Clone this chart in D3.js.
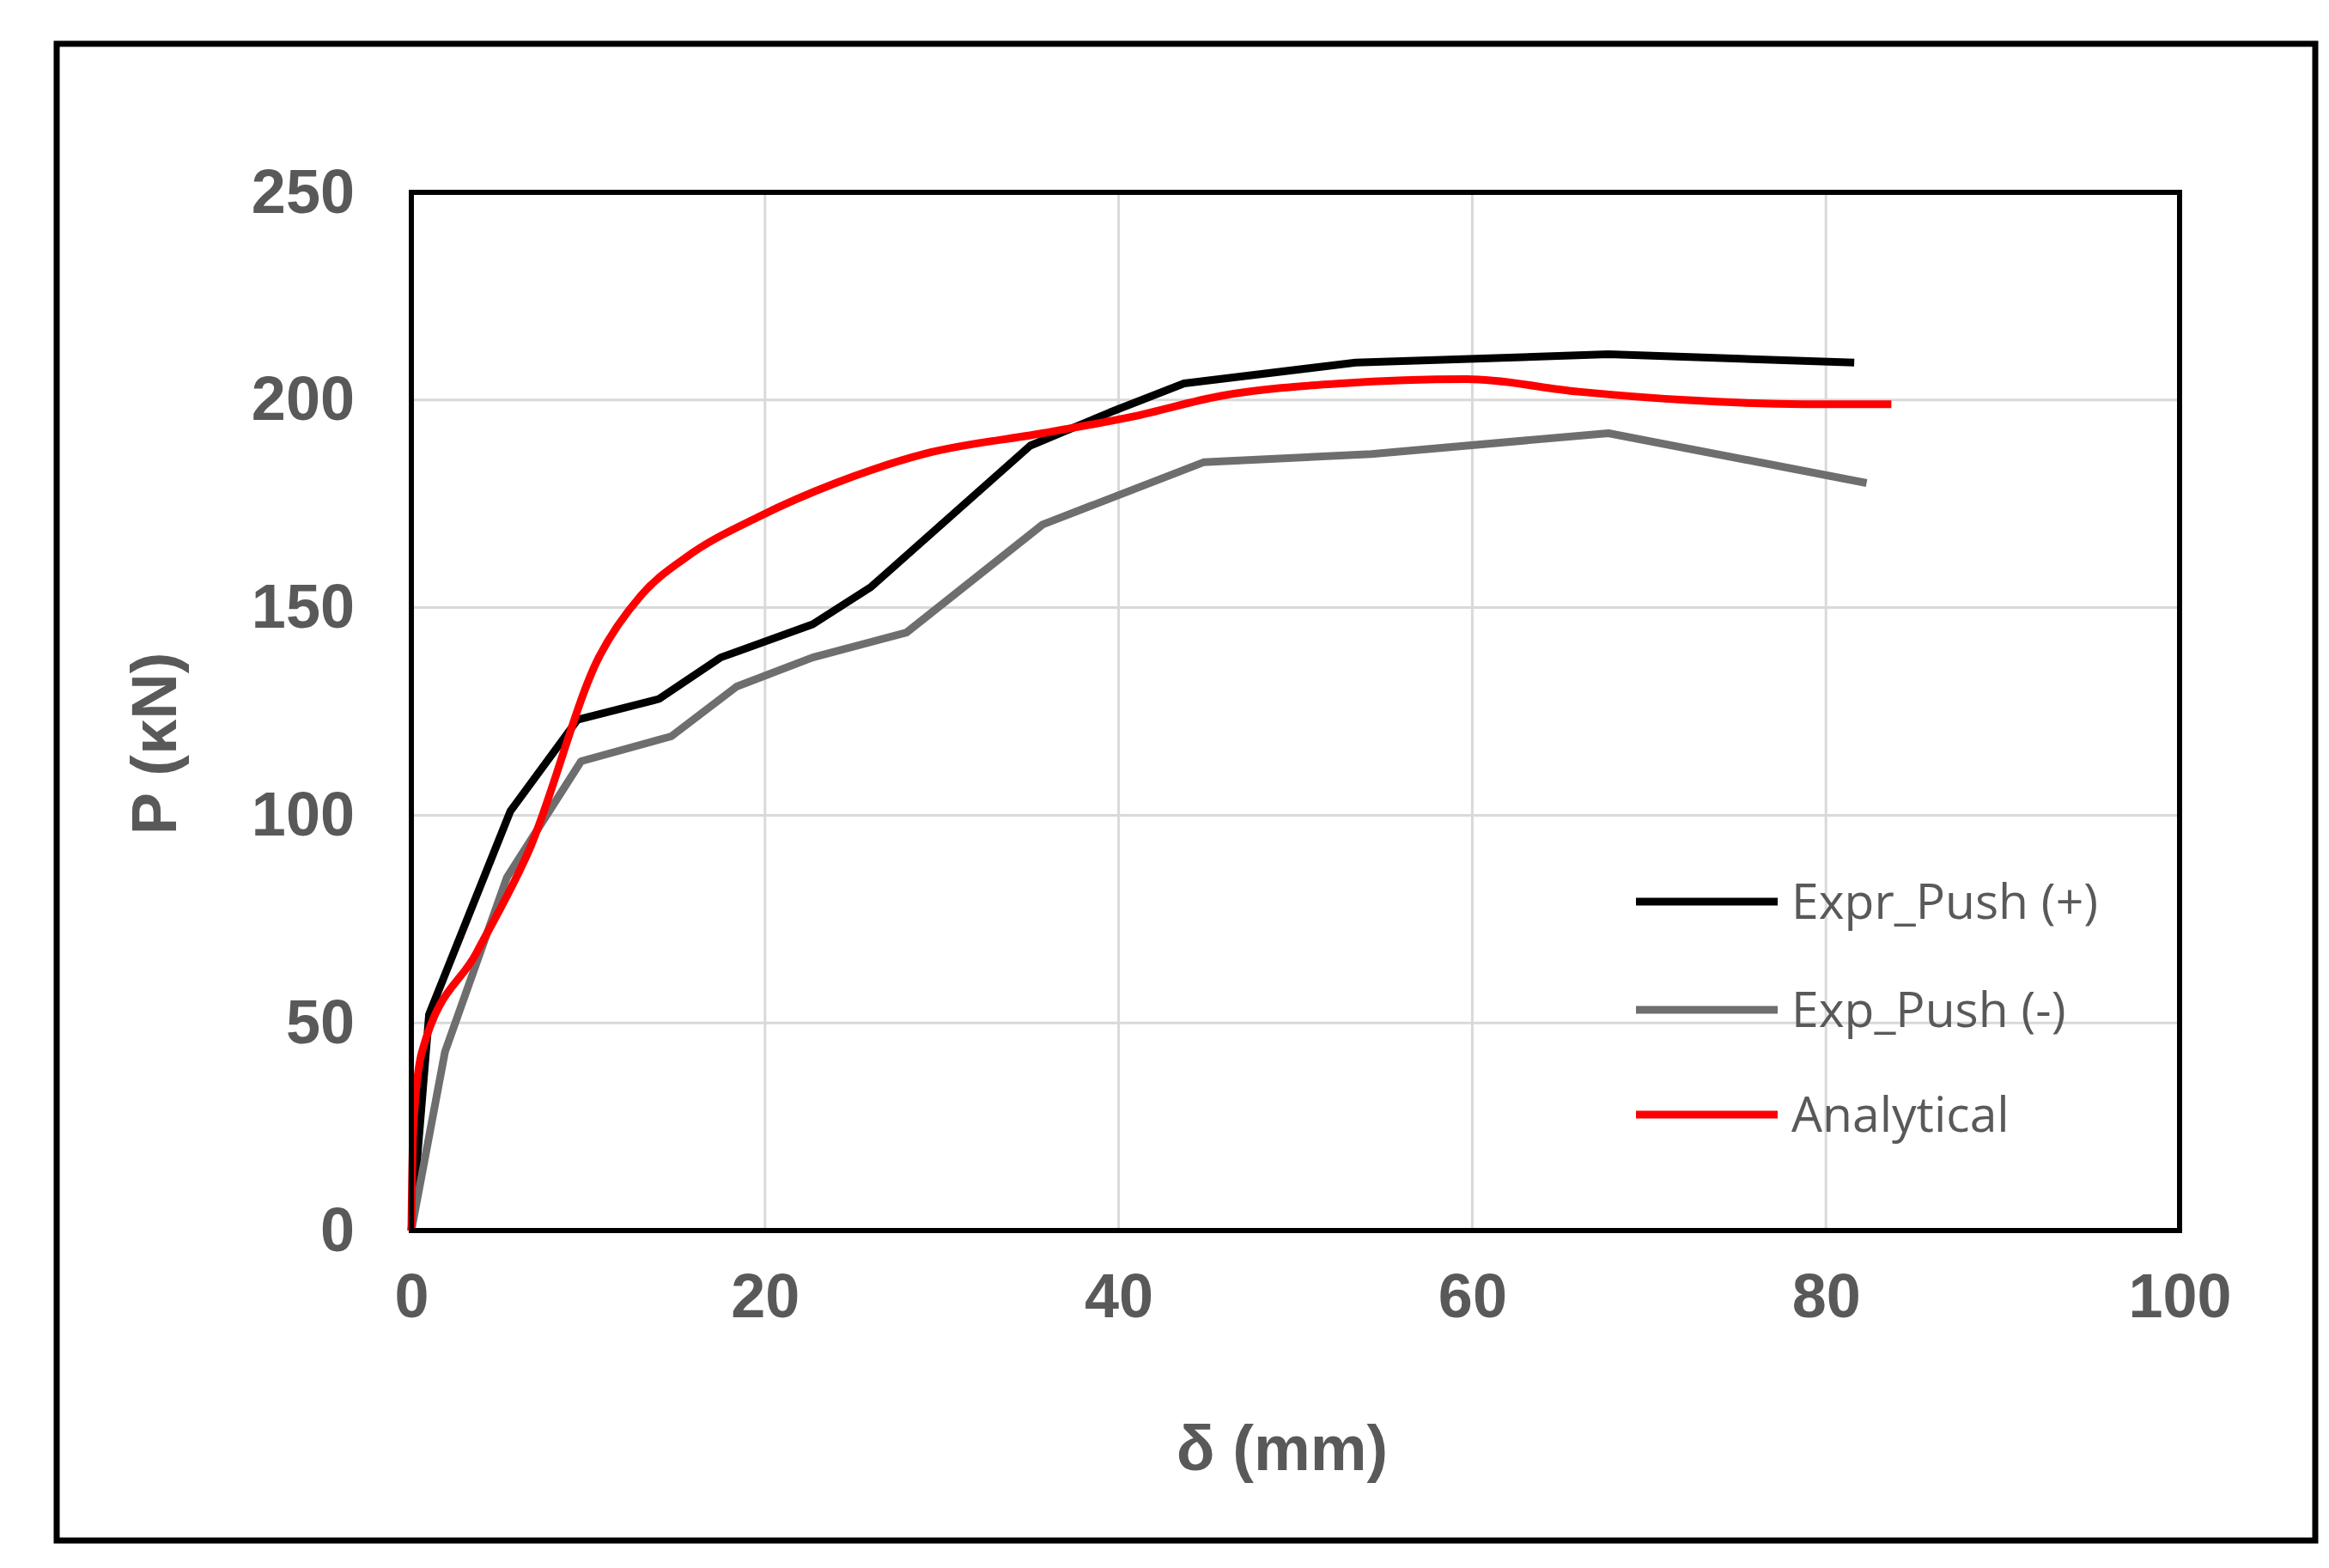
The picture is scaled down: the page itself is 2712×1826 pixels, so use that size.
<!DOCTYPE html><html><head><meta charset="utf-8"><script src="https://cdn.jsdelivr.net/npm/d3@7"></script>
<style>body{margin:0;background:#fff}</style></head><body><svg id="c" width="2712" height="1826"></svg><script>
const xTicks=[0,20,40,60,80,100];
const yTicks=[0,50,100,150,200,250];
const seriesNames=["Expr_Push (+)","Exp_Push (-)","Analytical"];
const seriesColors=["#000000","#6e6e6e","#ff0000"];
const pushPos=[[0,0],[1,52],[5.6,101],[9.4,123],[14,128],[17.5,138],[22.7,146],[26,155],[35,189],[39.5,197],[43.7,204],[53.4,209],[67.7,211],[81.6,209]];
const pushNeg=[[0,0],[1.9,43],[5.4,85],[9.6,113],[14.7,119],[18.4,131],[22.7,138],[28,144],[35.7,170],[44.8,185],[54.3,187],[67.7,192],[82.3,180]];
const analytical=[[0,0],[0.1,24],[0.6,43],[3.7,67],[6.7,92],[10.6,138],[13,153],[15.5,162],[19.7,172],[24,180],[29,187],[35.7,192],[40.8,196],[45.8,201],[52.6,204],[59.7,205],[66,202],[72,200],[78.7,199],[83.7,199]];
const data=[pushPos,pushNeg,analytical];
const svg=d3.select("#c");
const L=479,R=2538,T=224,B=1433;
const x=d3.scaleLinear().domain([0,100]).range([L,R]);
const y=d3.scaleLinear().domain([0,250]).range([B,T]);
svg.append("rect").attr("x",66).attr("y",51).attr("width",2630).attr("height",1743).attr("fill","none").attr("stroke","#000").attr("stroke-width",7);
const g=svg.append("g");
g.selectAll(".gx").data(xTicks.slice(1,-1)).join("line").attr("x1",d=>x(d)).attr("x2",d=>x(d)).attr("y1",T).attr("y2",B).attr("stroke","#d9d9d9").attr("stroke-width",3);
g.selectAll(".gy").data(yTicks.slice(1,-1)).join("line").attr("y1",d=>y(d)).attr("y2",d=>y(d)).attr("x1",L).attr("x2",R).attr("stroke","#d9d9d9").attr("stroke-width",3);
const line=d3.line().x(d=>x(d[0])).y(d=>y(d[1]));
const lineSmooth=d3.line().x(d=>x(d[0])).y(d=>y(d[1])).curve(d3.curveMonotoneX);
data.forEach((s,i)=>svg.append("path").datum(s).attr("d",i==2?lineSmooth:line).attr("fill","none").attr("stroke",seriesColors[i]).attr("stroke-width",9).attr("stroke-linejoin","round"));
svg.append("rect").attr("x",L).attr("y",T).attr("width",R-L).attr("height",B-T).attr("fill","none").attr("stroke","#000").attr("stroke-width",6);
const ft="'Liberation Sans',Arial,sans-serif";
const ax=svg.append("g").attr("transform",`translate(0,${B})`).call(d3.axisBottom(x).tickValues(xTicks).tickSize(0).tickPadding(50));
ax.select(".domain").remove();
ax.selectAll("text").attr("font-family",ft).attr("font-size",72).attr("font-weight","bold").attr("fill","#595959");
const ay=svg.append("g").attr("transform",`translate(${L},0)`).call(d3.axisLeft(y).tickValues(yTicks).tickSize(0).tickPadding(66));
ay.select(".domain").remove();
ay.selectAll("text").attr("font-family",ft).attr("font-size",72).attr("font-weight","bold").attr("fill","#595959");
svg.append("text").attr("x",1493).attr("y",1712).attr("text-anchor","middle").attr("font-family",ft).attr("font-size",74).attr("font-weight","bold").attr("fill","#595959").text("δ (mm)");
svg.append("text").attr("transform","translate(205,866) rotate(-90)").attr("text-anchor","middle").attr("font-family",ft).attr("font-size",74).attr("font-weight","bold").attr("fill","#595959").text("P (κN)");
const ly=[1050,1176,1298];
seriesNames.forEach((n,i)=>{
 svg.append("line").attr("x1",1905).attr("x2",2070).attr("y1",ly[i]).attr("y2",ly[i]).attr("stroke",seriesColors[i]).attr("stroke-width",9);
 svg.append("text").attr("x",2086).attr("y",ly[i]+20).attr("font-family","'Open Sans',sans-serif").attr("font-size",57).attr("fill","#595959").text(n);
});
</script></body></html>
